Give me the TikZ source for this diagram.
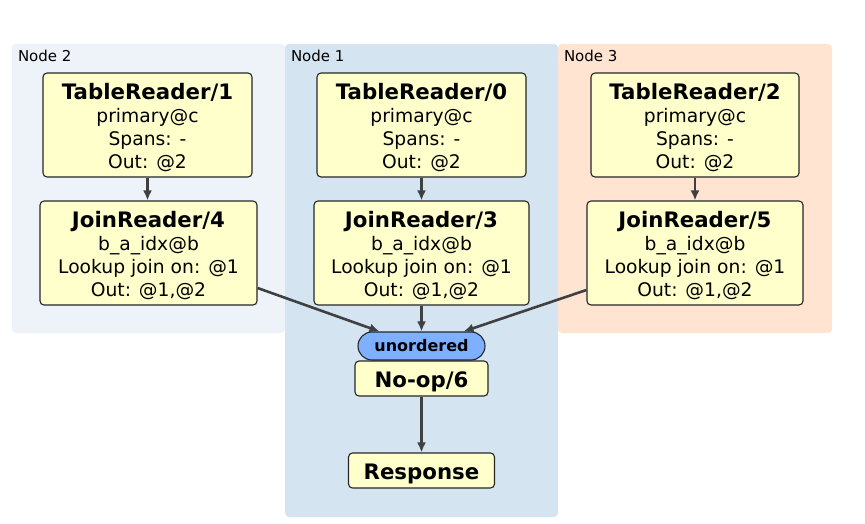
\documentclass[tikz,border=0pt]{standalone}
\usepackage{fontspec}
\setmainfont{DejaVu Sans}
\usepackage{xcolor}
\usepackage{tikz}
\usetikzlibrary{arrows.meta}

\definecolor{nodetwo}{HTML}{EEF3FA}
\definecolor{nodeone}{HTML}{D4E4F0}
\definecolor{nodethree}{HTML}{FFE4D2}
\definecolor{procfill}{HTML}{FFFFCC}
\definecolor{syncfill}{HTML}{7EB0FF}
\definecolor{edgegray}{HTML}{404040}

\newcommand{\ttl}[1]{{\fontsize{21.3}{23}\selectfont\bfseries\rule{0pt}{22pt}#1}}

\begin{document}
\begin{tikzpicture}[
x=1pt, y=-1pt,
cluster/.style={rectangle, rounded corners=4pt, draw=none, inner sep=0pt},
clab/.style={inner sep=0pt, anchor=base west, font=\fontsize{15}{18}\selectfont},
proc/.style={draw=black!85, line width=1.1pt, rounded corners=4pt, fill=procfill, align=center, inner sep=0pt, font=\fontsize{18.7}{23}\selectfont},
sync/.style={proc, fill=syncfill, rounded corners=14pt, font=\fontsize{16}{18}\selectfont\bfseries},
arr/.style={-{Latex[length=10pt,width=9pt]}, line width=2.6pt, draw=edgegray}
]
\useasboundingbox (0,0) rectangle (865,524);

% clusters
\node[cluster, fill=nodetwo, minimum width=273, minimum height=289] (n2) at (148.5,188.5) {};
\node[cluster, fill=nodeone, minimum width=273, minimum height=473] (n1) at (421.5,280.5) {};
\node[cluster, fill=nodethree, minimum width=274, minimum height=289] (n3) at (695,188.5) {};
\node[clab] (n2lab) at ([xshift=6pt,yshift=-18pt]n2.north west) {Node 2};
\node[clab] (n1lab) at ([xshift=6pt,yshift=-18pt]n1.north west) {Node 1};
\node[clab] (n3lab) at ([xshift=6pt,yshift=-18pt]n3.north west) {Node 3};

% processors
\node[proc, minimum width=209, minimum height=104] (tr1) at (147.5,125) {\ttl{TableReader/1}\\primary@c\\Spans: -\\Out: @2};
\node[proc, minimum width=217, minimum height=104] (jr4) at (148.5,253) {\ttl{JoinReader/4}\\b\_a\_idx@b\\Lookup join on: @1\\Out: @1,@2};
\node[proc, minimum width=209, minimum height=104] (tr0) at (421.5,125) {\ttl{TableReader/0}\\primary@c\\Spans: -\\Out: @2};
\node[proc, minimum width=215, minimum height=104] (jr3) at (421.5,253) {\ttl{JoinReader/3}\\b\_a\_idx@b\\Lookup join on: @1\\Out: @1,@2};
\node[proc, minimum width=208, minimum height=104] (tr2) at (695,125) {\ttl{TableReader/2}\\primary@c\\Spans: -\\Out: @2};
\node[proc, minimum width=216, minimum height=104] (jr5) at (695,253) {\ttl{JoinReader/5}\\b\_a\_idx@b\\Lookup join on: @1\\Out: @1,@2};
\node[sync, minimum width=127, minimum height=28] (un) at (421.5,346) {unordered};
\node[proc, minimum width=133, minimum height=35] (noop) at (421.5,378.5) {\ttl{No-op/6}};
\node[proc, minimum width=146, minimum height=35] (resp) at (421.5,470.5) {\ttl{Response}};

% streams
\draw[arr] (tr1.south) -- (tr1.south |- jr4.north);
\draw[arr] (tr0.south) -- (tr0.south |- jr3.north);
\draw[arr] (tr2.south) -- (tr2.south |- jr5.north);
\draw[arr] ([yshift=-35pt]jr4.east) -- ([xshift=22pt]un.north west);
\draw[arr] (jr3.south) -- (un.north);
\draw[arr] ([yshift=-37pt]jr5.west) -- ([xshift=-22pt]un.north east);
\draw[arr] (noop.south) -- (resp.north);
\end{tikzpicture}
\end{document}
